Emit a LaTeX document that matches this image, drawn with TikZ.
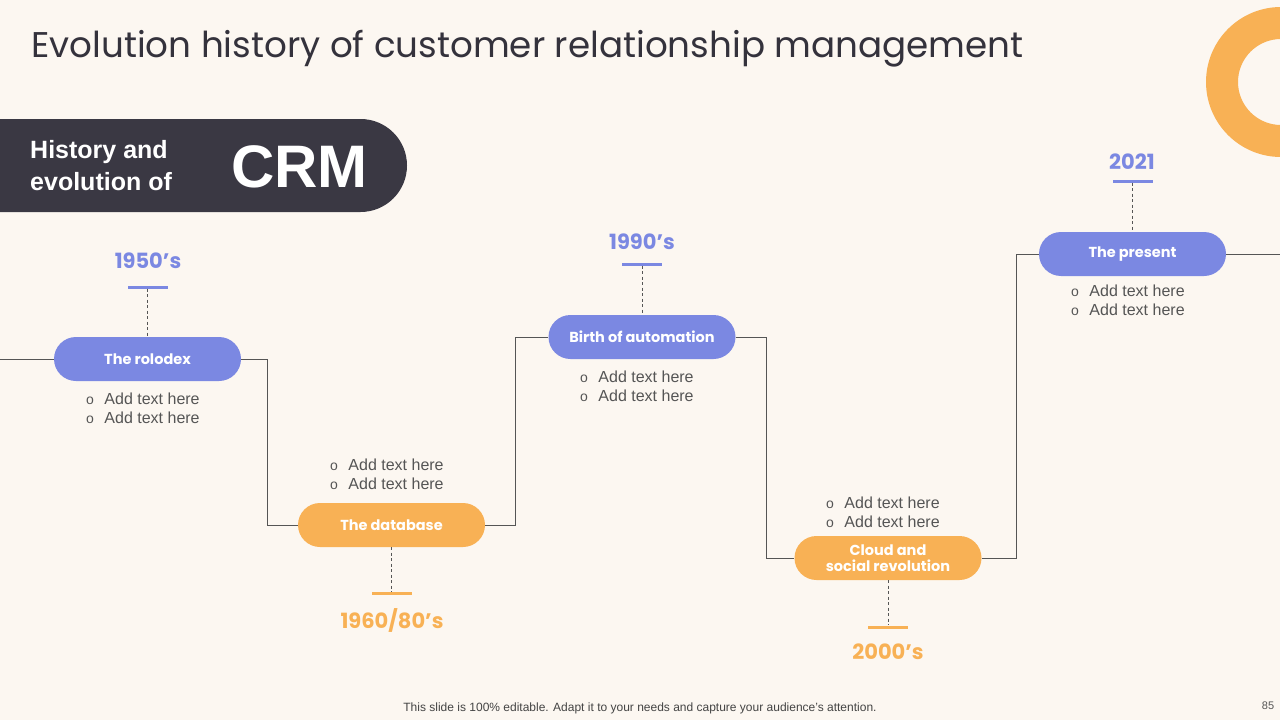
\documentclass[tikz,border=0pt]{standalone}
\usepackage{fontspec}
\setmainfont{Liberation Sans}
\newfontfamily\popfont{Poppins}
\usetikzlibrary{positioning}
\definecolor{bgc}{HTML}{FCF7F1}
\definecolor{darkbar}{HTML}{3A3843}
\definecolor{pblue}{HTML}{7B88E2}
\definecolor{porange}{HTML}{F8B155}
\definecolor{linec}{HTML}{555555}
\definecolor{txtc}{HTML}{555555}
\tikzset{
  pill/.style={rounded corners=22pt, minimum width=187pt, minimum height=44pt, inner sep=0pt,
    text=white, font=\popfont\fontsize{14.5}{17}\selectfont\bfseries, align=center},
  bluepill/.style={pill, fill=pblue},
  orangepill/.style={pill, fill=porange},
  yearbar/.style={minimum width=40pt, minimum height=3pt, inner sep=0pt},
  yearlbl/.style={font=\popfont\fontsize{21}{24}\selectfont\bfseries, inner sep=0pt},
  conn/.style={draw=linec, line width=0.9pt},
  dashconn/.style={draw=linec, line width=0.8pt, dash pattern=on 3pt off 2.5pt},
  bullets/.style={font=\fontsize{16}{19}\selectfont, text=txtc, align=left, anchor=west, inner sep=0pt},
}
\newcommand{\bul}{{\fontsize{14}{14}\selectfont o}\hspace{10.5pt}}
\begin{document}
\begin{tikzpicture}[x=1pt,y=-1pt]
\useasboundingbox (0,0) rectangle (1280,720);
\fill[bgc] (0,0) rectangle (1280,720);
% ring
\begin{scope}
\clip (0,0) rectangle (1280,720);
\fill[porange, even odd rule] (1281,82) circle (75) (1281,82) circle (43);
\end{scope}
% title
\node[anchor=west, inner sep=0pt, font=\popfont\fontsize{35.7}{40}\selectfont, text=darkbar!90!black] (title) at (31,49) {Evolution history of customer relationship management};
% banner
\fill[darkbar] (0,119) [rounded corners=46.5pt]-- (407,119) -- (407,212) [sharp corners]-- (0,212) -- cycle;
\node[anchor=west, align=left, text=white, inner sep=0pt, font=\fontsize{25}{32}\selectfont\bfseries] (hist) at (30,166) {History and\\evolution of};
\node[anchor=west, text=white, inner sep=0pt, font=\fontsize{60}{60}\selectfont\bfseries] (crm) at (231,167) {CRM};
% pills
\node[bluepill] (p1) at (147.5,359) {The rolodex};
\node[orangepill] (p2) at (391.5,525) {The database};
\node[bluepill] (p3) at (642,337) {Birth of automation};
\node[orangepill] (p4) at (888,558) {Cloud and\\[-1pt]social revolution};
\node[bluepill] (p5) at (1132.5,254) {The present};
% connectors
\coordinate (lstart) at (0,359);
\coordinate (rend) at (1280,254);
\draw[conn] (lstart) -- (p1.west);
\draw[conn] (p1.east) -- ++(26,0) |- (p2.west);
\draw[conn] (p2.east) -- ++(30,0) |- (p3.west);
\draw[conn] (p3.east) -- ++(31,0) |- (p4.west);
\draw[conn] (p4.east) -- ++(35,0) |- (p5.west);
\draw[conn] (p5.east) -- (rend);
% year bars and labels
\node[yearbar, fill=pblue] (b1) at (147.5,287) {};
\node[yearbar, fill=pblue] (b3) at (642,264) {};
\node[yearbar, fill=pblue] (b5) at (1132.5,181) {};
\node[yearbar, fill=porange] (b2) at (391.5,593) {};
\node[yearbar, fill=porange] (b4) at (888,627) {};
\draw[dashconn] (b1) -- (p1.north);
\draw[dashconn] (b3) -- (p3.north);
\draw[dashconn] (b5) -- (p5.north);
\draw[dashconn] (p2.south) -- (b2);
\draw[dashconn] (p4.south) -- (b4);
\node[yearlbl, text=pblue] (y1) at (148,261) {1950’s};
\node[yearlbl, text=pblue] (y3) at (642,242) {1990’s};
\node[yearlbl, text=pblue] (y5) at (1132,162) {2021};
\node[yearlbl, text=porange] (y2) at (392,620) {1960/80’s};
\node[yearlbl, text=porange] (y4) at (888,652) {2000’s};
% bullets
\node[bullets] (t1) at (86,408.5) {\bul Add text here\\\bul Add text here};
\node[bullets] (t2) at (330,474.5) {\bul Add text here\\\bul Add text here};
\node[bullets] (t3) at (580,386.5) {\bul Add text here\\\bul Add text here};
\node[bullets] (t4) at (826,512.5) {\bul Add text here\\\bul Add text here};
\node[bullets] (t5) at (1071,300.5) {\bul Add text here\\\bul Add text here};
% footer
\node[inner sep=0pt, text=txtc!80!black, font=\fontsize{12}{14}\selectfont] (foot) at (640,708) {This slide is 100\% editable. Adapt it to your needs and capture your audience’s attention.};
\node[inner sep=0pt, text=txtc, font=\fontsize{11}{12}\selectfont] (pg) at (1268,706) {85};
\end{tikzpicture}
\end{document}
